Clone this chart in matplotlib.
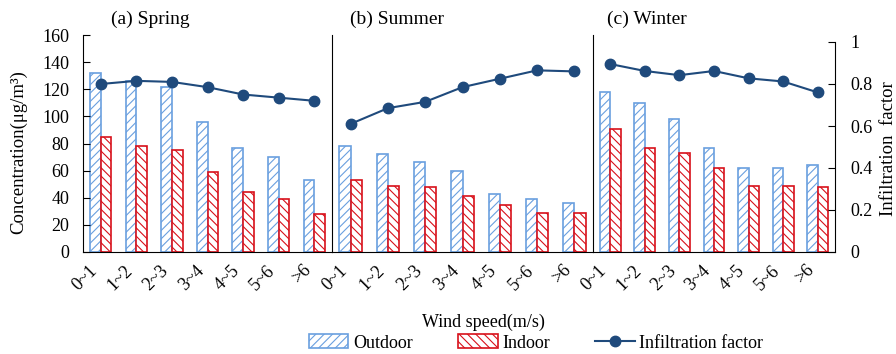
import matplotlib.pyplot as plt
import numpy as np

plt.rcParams["font.family"] = ["Liberation Serif", "DejaVu Serif"]
plt.rcParams["hatch.linewidth"] = 0.8

wind_bins = ["0~1", "1~2", "2~3", "3~4", "4~5", "5~6", ">6"]
seasons = ["(a) Spring", "(b) Summer", "(c) Winter"]

spring_outdoor = [132, 126, 122, 96, 77, 70, 53]
spring_indoor = [85, 78, 75, 59, 44, 39, 28]
spring_infil = [0.80, 0.815, 0.81, 0.785, 0.75, 0.735, 0.72]

summer_outdoor = [78, 72, 66, 60, 43, 39, 36]
summer_indoor = [53, 49, 48, 41, 35, 29, 29]
summer_infil = [0.61, 0.685, 0.715, 0.785, 0.825, 0.865, 0.86]

winter_outdoor = [118, 110, 98, 77, 62, 62, 64]
winter_indoor = [91, 77, 73, 62, 49, 49, 48]
winter_infil = [0.895, 0.862, 0.842, 0.862, 0.827, 0.812, 0.76]

OUT_COLOR = "#6A9FDF"
IN_COLOR = "#D8101A"
LINE_COLOR = "#1F4A7C"


def draw_panel(rect, outdoor, indoor, infil, first=False, last=False):
    ax = fig.add_axes(rect)
    x = np.arange(len(wind_bins))
    w = 0.3
    b1 = ax.bar(x - w / 2, outdoor, w, color="white", edgecolor=OUT_COLOR,
                hatch="////", linewidth=1.2, label="Outdoor")
    b2 = ax.bar(x + w / 2, indoor, w, color="white", edgecolor=IN_COLOR,
                hatch="\\\\\\\\", linewidth=1.2, label="Indoor")
    ax.set_xlim(-0.5, len(wind_bins) - 0.5)
    ax.set_ylim(0, 160)
    ax.set_xticks(x)
    ax.set_xticklabels(wind_bins, rotation=45, ha="right", va="top", fontsize=13)
    ax.tick_params(axis="x", length=0, pad=7)
    for s in ["top", "right"]:
        ax.spines[s].set_visible(False)

    ax2 = ax.twinx()
    (l1,) = ax2.plot(x, infil, color=LINE_COLOR, marker="o", markersize=7.5,
                     linewidth=1.5, label="Infiltration factor")
    ax2.set_ylim(0, 217 / 210)
    for s in ["top", "left", "bottom"]:
        ax2.spines[s].set_visible(False)

    # twinx resets the left ticks, so set them afterwards
    if first:
        ax.set_yticks(range(0, 161, 20))
        ax.tick_params(axis="y", left=True, direction="in", length=5, pad=10,
                       labelsize=13)
    else:
        ax.tick_params(axis="y", left=False, labelleft=False)
    if last:
        ax2.spines["right"].set_bounds(0, 1)
        ax2.set_yticks([0, 0.2, 0.4, 0.6, 0.8, 1])
        ax2.set_yticklabels(["0", "0.2", "0.4", "0.6", "0.8", "1"])
        ax2.tick_params(axis="y", direction="in", length=5, pad=11, labelsize=13)
    else:
        ax2.spines["right"].set_visible(False)
        ax2.tick_params(axis="y", right=False, labelright=False)
    return b1, b2, l1


fig = plt.figure(figsize=(8.96, 3.54), dpi=100)

W, H = 896, 354
bottom = 1 - 252 / H
height = (252 - 35) / H
edges = [83, 332, 593, 835]

handles = draw_panel([edges[0] / W, bottom, (edges[1] - edges[0]) / W, height],
                     spring_outdoor, spring_indoor, spring_infil, first=True)
draw_panel([edges[1] / W, bottom, (edges[2] - edges[1]) / W, height],
           summer_outdoor, summer_indoor, summer_infil)
draw_panel([edges[2] / W, bottom, (edges[3] - edges[2]) / W, height],
           winter_outdoor, winter_indoor, winter_infil, last=True)

for name, xpos in zip(seasons, [111, 350, 607]):
    fig.text(xpos / W, 1 - 19 / H, name, fontsize=14, ha="left", va="center")

fig.text(19 / W, 1 - 152 / H, "Concentration(μg/m³)", rotation=90,
         fontsize=13.5, ha="center", va="center")
fig.text(888 / W, 1 - 149 / H, "Infiltration  factor", rotation=90,
         fontsize=13.5, ha="center", va="center")
fig.text(483 / W, 1 - 322 / H, "Wind speed(m/s)", fontsize=13,
         ha="center", va="center")

fig.legend(handles, ["Outdoor", "Indoor", "Infiltration factor"], ncol=3,
           loc="center", bbox_to_anchor=(536 / W, 1 - 343 / H), frameon=False,
           fontsize=13, handlelength=2.2, handleheight=0.8, handletextpad=0.25,
           columnspacing=2.5, borderpad=0)

fig.savefig("out.png", dpi=100)
